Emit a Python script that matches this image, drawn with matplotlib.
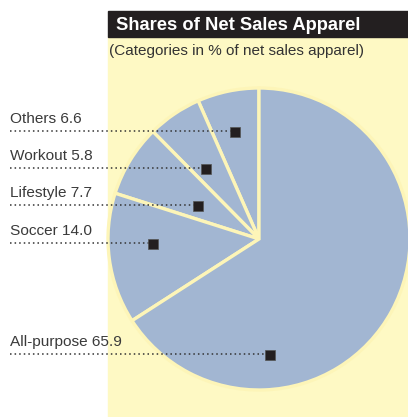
import matplotlib
matplotlib.use("Agg")
import matplotlib.pyplot as plt
from matplotlib.patches import Rectangle

plt.rcParams["font.family"] = ["Liberation Sans", "DejaVu Sans"]

# data (share of net sales apparel, %)
categories = ["Others", "Workout", "Lifestyle", "Soccer", "All-purpose"]
shares = [6.6, 5.8, 7.7, 14.0, 65.9]
labels = [f"{c} {v:.1f}" for c, v in zip(categories, shares)]

BLUE = "#a2b6d2"
YELLOW = "#fef9c4"
EDGE = "#fdf5b8"
DARK = "#231f20"
TEXT = "#3a3a3a"

W, H = 408, 417
fig = plt.figure(figsize=(W / 100, H / 100), dpi=100)
ax = fig.add_axes([0, 0, 1, 1])

def py(y):  # pixel-from-top -> data y
    return H - y

# background panel + title bar
ax.add_patch(Rectangle((108, 0), W - 108, py(37), color=YELLOW, zorder=0))
ax.add_patch(Rectangle((108, py(37)), W - 108, 26, color=DARK, zorder=1))
ax.text(116, py(30), "Shares of Net Sales Apparel", color="white",
        fontsize=13.2, fontweight="bold", va="baseline", zorder=2)
ax.text(109, py(55), "(Categories in % of net sales apparel)", color="#333333",
        fontsize=11.0, va="baseline", zorder=2)

# pie
cx, cy, r = 259, py(239), 151
ax.pie(shares, startangle=90, counterclock=True, center=(cx, cy), radius=r,
       colors=[BLUE] * len(shares),
       wedgeprops=dict(edgecolor=EDGE, linewidth=2.4), frame=True)
ax.set_xlim(0, W)
ax.set_ylim(0, H)
ax.set_aspect("equal")
ax.axis("off")

# label anchors (layout): marker point and dotted-line height
marker_x = [235, 205.5, 197.5, 152.5, 269.5]
line_y = [130.5, 167.5, 205, 242.5, 354]
for lab, mx, ly in zip(labels, marker_x, line_y):
    ax.plot([10, mx], [py(ly), py(ly)], color="#333333", lw=1.1,
            ls=(0, (1, 2.0)), zorder=3, solid_capstyle="butt")
    ax.plot(mx, py(ly + 1), marker="s", ms=7.2, color=DARK,
            mec="#555555", mew=0.5, zorder=4)
    ax.text(10, py(ly - 8), lab, color=TEXT, fontsize=11.1,
            va="baseline", zorder=4)

fig.savefig("out.png", dpi=100)
